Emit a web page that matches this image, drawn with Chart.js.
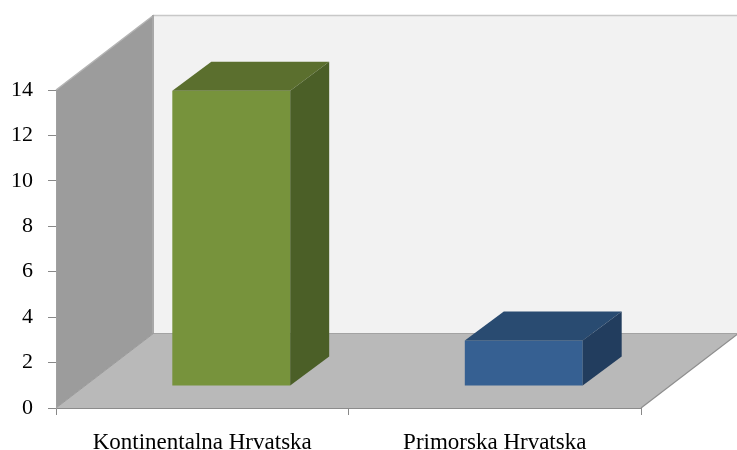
<!DOCTYPE html>
<html><head><meta charset="utf-8">
<script src="https://cdn.jsdelivr.net/npm/chart.js@4.4.1/dist/chart.umd.min.js"></script>
<style>html,body{margin:0;padding:0;background:#fff;} #wrap{width:737px;height:450px;position:relative;}</style>
</head><body><div id="wrap"><canvas id="c"></canvas></div>
<script>
const categories = ['Kontinentalna Hrvatska', 'Primorska Hrvatska'];
const values = [13, 2];
const yTickValues = [0, 2, 4, 6, 8, 10, 12, 14];

const barFront = ['#77933C', '#366092'];
const barTop = ['#5B6F2E', '#294B71'];
const barSide = ['#4B5F27', '#223D5E'];

// 3D projection offsets (pixels)
const WALL_DX = 98, WALL_DY = 75;
const BAR_FX = 29, BAR_FY = 22;
const BAR_DX = 39, BAR_DY = 29;

const FAMILY = "'Liberation Serif', 'Times New Roman', serif";

const walls = {
  id: 'walls',
  beforeDraw(chart) {
    const {ctx, chartArea: a} = chart;
    const L = a.left, R = a.right, T = a.top, B = a.bottom;
    ctx.save();
    // back wall
    ctx.fillStyle = '#F2F2F2';
    ctx.fillRect(L + WALL_DX, T - WALL_DY, R - L, B - T);
    ctx.strokeStyle = '#C8C8C8';
    ctx.lineWidth = 1.5;
    ctx.beginPath();
    ctx.moveTo(L + WALL_DX, T - WALL_DY + 0.5);
    ctx.lineTo(R + WALL_DX, T - WALL_DY + 0.5);
    ctx.stroke();
    // floor
    ctx.fillStyle = '#B9B9B9';
    ctx.beginPath();
    ctx.moveTo(L, B); ctx.lineTo(R, B);
    ctx.lineTo(R + WALL_DX, B - WALL_DY); ctx.lineTo(L + WALL_DX, B - WALL_DY);
    ctx.closePath(); ctx.fill();
    ctx.strokeStyle = '#A3A3A3'; ctx.lineWidth = 1;
    ctx.beginPath();
    ctx.moveTo(L + WALL_DX, B - WALL_DY + 0.5); ctx.lineTo(R + WALL_DX, B - WALL_DY + 0.5);
    ctx.stroke();
    ctx.strokeStyle = '#8E8E8E'; ctx.lineWidth = 1.2;
    ctx.beginPath();
    ctx.moveTo(R, B); ctx.lineTo(R + WALL_DX, B - WALL_DY);
    ctx.stroke();
    // left wall
    ctx.fillStyle = '#9C9C9C';
    ctx.beginPath();
    ctx.moveTo(L, T); ctx.lineTo(L + WALL_DX, T - WALL_DY);
    ctx.lineTo(L + WALL_DX, B - WALL_DY); ctx.lineTo(L, B);
    ctx.closePath(); ctx.fill();
    ctx.strokeStyle = '#B4B4B4'; ctx.lineWidth = 1.5;
    ctx.beginPath();
    ctx.moveTo(L, T); ctx.lineTo(L + WALL_DX, T - WALL_DY);
    ctx.stroke();
    ctx.strokeStyle = '#A8A8A8'; ctx.lineWidth = 2;
    ctx.beginPath();
    ctx.moveTo(L + WALL_DX - 1, T - WALL_DY); ctx.lineTo(L + WALL_DX - 1, B - WALL_DY);
    ctx.stroke();
    ctx.strokeStyle = '#9A9A9A'; ctx.lineWidth = 1;
    ctx.beginPath();
    ctx.moveTo(L, B); ctx.lineTo(L + WALL_DX, B - WALL_DY);
    ctx.stroke();
    ctx.restore();
  },
  beforeDatasetDraw(chart) {
    chart.ctx.save();
    chart.ctx.translate(BAR_FX, -BAR_FY);
  },
  afterDatasetDraw(chart, args) {
    const ctx = chart.ctx;
    ctx.restore();
    const meta = args.meta;
    meta.data.forEach((el, i) => {
      const p = el.getProps(['x', 'y', 'base', 'width'], true);
      const left = p.x - p.width / 2 + BAR_FX;
      const right = p.x + p.width / 2 + BAR_FX;
      const top = Math.min(p.y, p.base) - BAR_FY;
      const bottom = Math.max(p.y, p.base) - BAR_FY;
      ctx.save();
      ctx.fillStyle = barTop[i];
      ctx.beginPath();
      ctx.moveTo(left, top); ctx.lineTo(right, top);
      ctx.lineTo(right + BAR_DX, top - BAR_DY); ctx.lineTo(left + BAR_DX, top - BAR_DY);
      ctx.closePath(); ctx.fill();
      ctx.fillStyle = barSide[i];
      ctx.beginPath();
      ctx.moveTo(right, top); ctx.lineTo(right + BAR_DX, top - BAR_DY);
      ctx.lineTo(right + BAR_DX, bottom - BAR_DY); ctx.lineTo(right, bottom);
      ctx.closePath(); ctx.fill();
      ctx.restore();
    });
  }
};

new Chart(document.getElementById('c'), {
  type: 'bar',
  data: {
    labels: categories,
    datasets: [{
      data: values,
      backgroundColor: barFront,
      borderWidth: 0,
      categoryPercentage: 1,
      barPercentage: 0.403,
      clip: false
    }]
  },
  options: {
    responsive: true,
    maintainAspectRatio: false,
    devicePixelRatio: 1,
    animation: false,
    layout: {padding: {top: 90, right: 96, left: 0, bottom: 0}},
    plugins: {legend: {display: false}, tooltip: {enabled: false}},
    scales: {
      x: {
        grid: {display: true, drawOnChartArea: false, offset: true, tickLength: 7, color: '#888888', lineWidth: 1},
        border: {display: true, color: '#8C8C8C', width: 1},
        ticks: {font: {family: FAMILY, size: 23}, color: '#000000', padding: 14, maxRotation: 0, autoSkip: false},
        afterFit(s) { s.height = 42; }
      },
      y: {
        min: 0, max: 14,
        afterBuildTicks(s) { s.ticks = yTickValues.map(v => ({value: v})); },
        grid: {display: true, drawOnChartArea: false, tickLength: 8, color: '#888888', lineWidth: 1},
        border: {display: true, color: '#A0A0A0', width: 1},
        ticks: {font: {family: FAMILY, size: 22}, color: '#000000', padding: 15},
        afterFit(s) { s.width = 56; }
      }
    }
  },
  plugins: [walls]
});
</script>
</body></html>
